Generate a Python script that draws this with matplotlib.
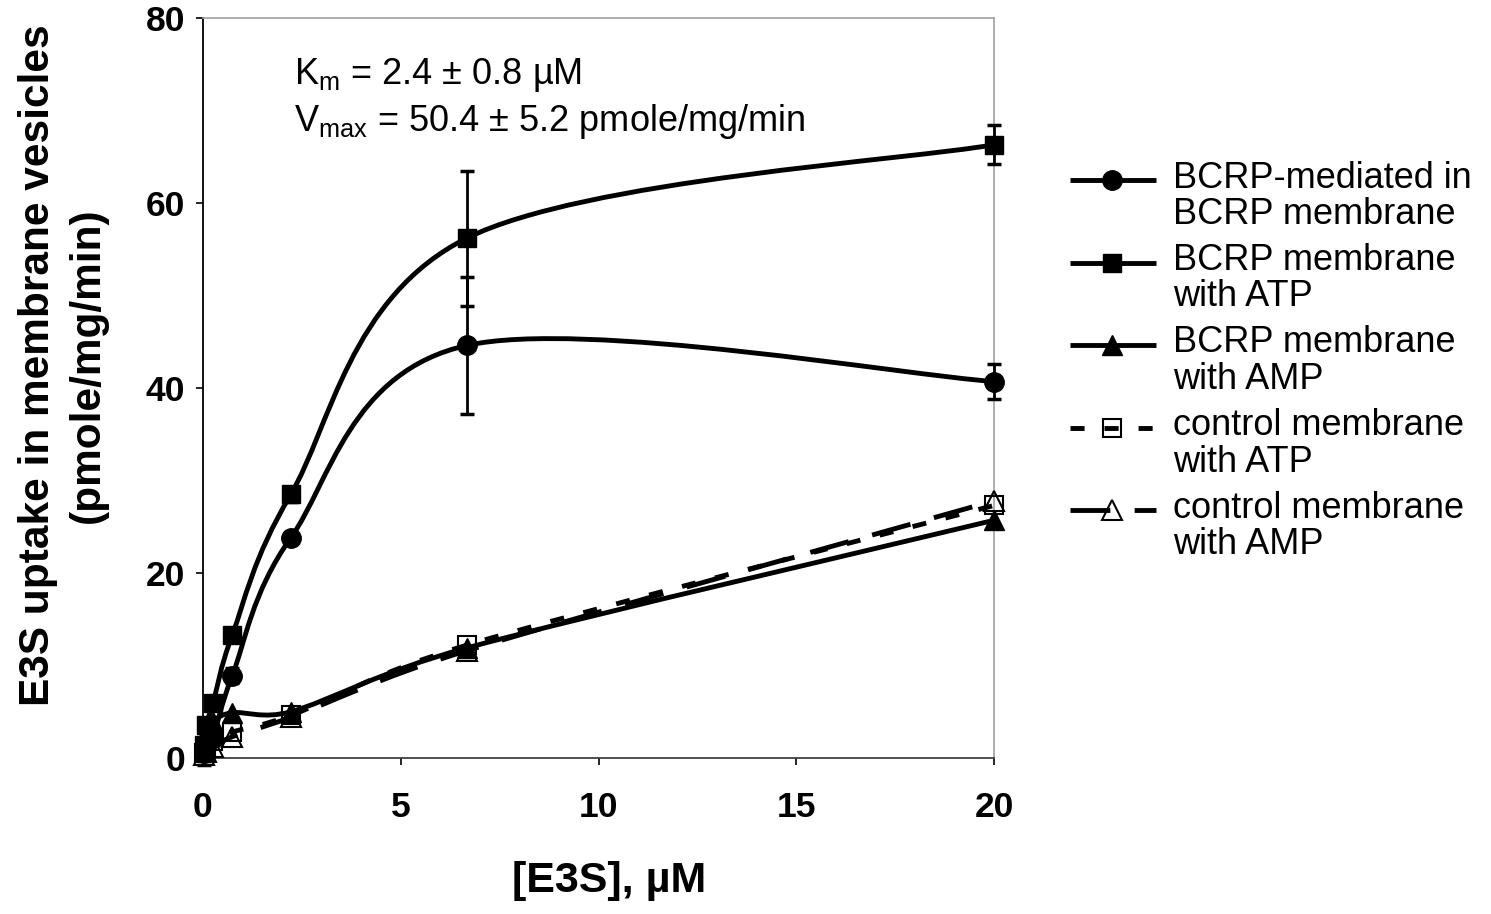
import numpy as np
import matplotlib
matplotlib.use("Agg")
import matplotlib.pyplot as plt
from matplotlib.path import Path
from matplotlib.patches import PathPatch
from matplotlib.lines import Line2D

plt.rcParams['font.family'] = ['Liberation Sans', 'DejaVu Sans']

# E3S concentrations (uM) and uptake rates (pmole/mg/min)
conc = [0.027, 0.082, 0.25, 0.74, 2.22, 6.67, 20]
bcrp_mediated = [0.5, 1.4, 2.2, 8.9, 23.8, 44.6, 40.7]
bcrp_mediated_err = [1.3, 1.0, 0.8, 0.8, 0.6, 7.4, 1.9]
bcrp_atp = [1.4, 3.6, 5.9, 13.3, 28.5, 56.2, 66.3]
bcrp_atp_err = [0.6, 0.6, 0.6, 0.8, 0.8, 7.3, 2.1]
bcrp_amp = [0.9, 2.2, 3.9, 4.9, 5.0, 11.9, 25.7]
control_atp = [0.5, 1.0, 1.8, 2.8, 4.6, 12.2, 27.3]
control_amp = [0.3, 0.7, 1.2, 2.3, 4.4, 11.6, 27.8]

labels = ["BCRP-mediated in\nBCRP membrane",
          "BCRP membrane\nwith ATP",
          "BCRP membrane\nwith AMP",
          "control membrane\nwith ATP",
          "control membrane\nwith AMP"]

LW = 3.5
series = [
    (bcrp_mediated, bcrp_mediated_err, dict(marker='o', ms=14, mfc='black'), '-'),
    (bcrp_atp, bcrp_atp_err, dict(marker='s', ms=13, mfc='black'), '-'),
    (bcrp_amp, None, dict(marker='^', ms=15, mfc='black'), '-'),
    (control_atp, None, dict(marker='s', ms=13, mfc='none', mew=1.5), (0, (2.9, 4.1))),
    (control_amp, None, dict(marker='^', ms=15, mfc='none', mew=1.5), (0, (8.2, 5.0))),
]


def smooth_path(ax, x, y):
    # spreadsheet-style smoothed line: cubic bezier with tension 1/6,
    # control arms limited to half the segment length (in screen space)
    to_disp = ax.transData
    pts = to_disp.transform(np.column_stack([x, y]).astype(float))
    n = len(pts)
    verts = [pts[0]]
    codes = [Path.MOVETO]
    for i in range(n - 1):
        p0 = pts[max(i - 1, 0)]
        p1 = pts[i]
        p2 = pts[i + 1]
        p3 = pts[min(i + 2, n - 1)]
        seg = np.hypot(*(p2 - p1))
        a1 = (p2 - p0) / 6
        a2 = (p3 - p1) / 6
        for a in (a1, a2):
            length = np.hypot(*a)
            if length > seg / 2:
                a *= (seg / 2) / length
        verts += [p1 + a1, p2 - a2, p2]
        codes += [Path.CURVE4] * 3
    return Path(to_disp.inverted().transform(np.array(verts)), codes)


W, H = 1491, 914
fig = plt.figure(figsize=(W / 100, H / 100), dpi=100)
ax = fig.add_axes([203 / W, 1 - 758 / H, (994 - 203) / W, (758 - 18) / H])
ax.set_xlim(0, 20)
ax.set_ylim(0, 80)

for vals, err, mk, ls in series:
    ax.add_patch(PathPatch(smooth_path(ax, conc, vals), fill=False, edgecolor='black',
                           lw=LW, linestyle=ls, capstyle='butt', zorder=2))
    if err is not None:
        ax.errorbar(conc, vals, yerr=err, fmt='none', ecolor='black', elinewidth=2,
                    capsize=5, capthick=2.5, zorder=3, clip_on=False)
    ax.plot(conc, vals, linestyle='none', mec='black', zorder=4, clip_on=False, **mk)

ax.set_xlim(0, 20)
ax.set_ylim(0, 80)
ax.set_xticks([0, 5, 10, 15, 20])
ax.set_yticks([0, 20, 40, 60, 80])
ax.tick_params(axis='both', direction='out', length=5, width=1.2, labelsize=25.5)
ax.tick_params(axis='x', pad=19)
ax.tick_params(axis='y', pad=8)
plt.setp(ax.get_xticklabels() + ax.get_yticklabels(), fontweight='bold')

ax.spines['left'].set_color('black')
ax.spines['left'].set_linewidth(1.3)
ax.spines['bottom'].set_color('#404040')
ax.spines['bottom'].set_linewidth(1.3)
for side in ('top', 'right'):
    ax.spines[side].set_color('#a0a0a0')
    ax.spines[side].set_linewidth(1.2)

ax.set_xlabel("[E3S], µM", fontsize=31, fontweight='bold', va='center', ha='center')
ax.xaxis.set_label_coords(0.513, -0.166)
ax.set_ylabel("E3S uptake in membrane vesicles\n(pmole/mg/min)", fontsize=30.5,
              fontweight='bold', va='center', ha='center', linespacing=1.3)
ax.yaxis.set_label_coords(-0.177, 0.531)

fig.text(294 / W, 1 - 84 / H, r"K$_\mathregular{m}$ = 2.4 ± 0.8 µM", fontsize=26, va='baseline')
fig.text(294 / W, 1 - 131 / H, r"V$_\mathregular{max}$ = 50.4 ± 5.2 pmole/mg/min",
         fontsize=26, va='baseline')

# legend, handle drawn beside the first line of each label
for k, ((vals, err, mk, ls), text) in enumerate(zip(series, labels)):
    hy = 180 + 82.5 * k
    fy = 1 - hy / H
    fig.add_artist(Line2D([1070 / W, 1156 / W], [fy, fy], color='black', lw=LW,
                          linestyle=ls, solid_capstyle='butt', dash_capstyle='butt'))
    fig.add_artist(Line2D([1112 / W], [fy], linestyle='none', mec='black', **mk))
    top, bottom = text.split("\n")
    fig.text(1173 / W, 1 - (hy + 7.5) / H, top, fontsize=26, va='baseline')
    fig.text(1173 / W, 1 - (hy + 44) / H, bottom, fontsize=26, va='baseline')

fig.savefig("out.png", dpi=100)
